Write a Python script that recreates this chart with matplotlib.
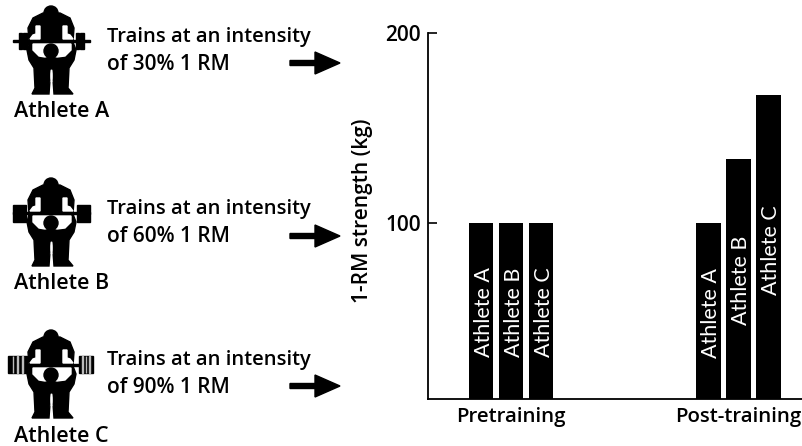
import matplotlib
matplotlib.use("Agg")
import matplotlib.pyplot as plt
from matplotlib.patches import Polygon, Circle, Rectangle, Ellipse

W, H = 803, 446
phases = ["Pretraining", "Post-training"]
athletes = ["Athlete A", "Athlete B", "Athlete C"]
pre_values = [100, 100, 100]
post_values = [100, 133.5, 167.5]
pre_label_start = [29.5, 29.5, 29.5]
post_label_start = [29, 46.3, 62]
intensities = [30, 60, 90]
y_ticks = [100, 200]
y_label = "1-RM strength (kg)"

FONT = "Open Sans"
plt.rcParams["font.family"] = [FONT, "DejaVu Sans"]
fig = plt.figure(figsize=(W / 100, H / 100), dpi=100, facecolor="white")

# chart axes
ax = fig.add_axes([428 / W, 1 - 399 / H, (W - 428) / W, (399 - 33) / H])
group_px = 227.5
off = 30 / group_px
bw = 24.5 / group_px
ax.set_xlim(-83 / group_px, 292 / group_px)
ax.set_ylim(7.4, 200)
for g, (vals, starts) in enumerate([(pre_values, pre_label_start), (post_values, post_label_start)]):
    for i, v in enumerate(vals):
        x = g + (i - 1) * off
        ax.bar(x, v - 7.4, bw, bottom=7.4, color="black", zorder=2)
        ax.text(x + 0.012, starts[i], athletes[i], rotation=90, ha="center", va="bottom",
                color="white", fontsize=15.5, fontfamily="Lato", fontweight="normal",
                zorder=3)
for s in ("top", "right"):
    ax.spines[s].set_visible(False)
for s in ("left", "bottom"):
    ax.spines[s].set_linewidth(1.3)
ax.set_yticks(y_ticks)
ax.set_yticklabels([str(t) for t in y_ticks], fontsize=15, fontweight="semibold")
ax.tick_params(axis="y", direction="in", length=6.5, width=1.2, pad=5)
ax.set_xticks([0, 1])
ax.set_xticklabels(phases, fontsize=14.7, fontweight="semibold")
ax.tick_params(axis="x", length=0, pad=6)
fig.text(363 / W, 1 - 211 / H, y_label, rotation=90, ha="center", va="center",
         fontsize=15, fontweight="semibold")

# overlay for the pictograms, in pixel coordinates
ov = fig.add_axes([0, 0, 1, 1], facecolor="none")
ov.set_xlim(0, W)
ov.set_ylim(H, 0)
ov.axis("off")


def lifter(dy, plate):
    k = "black"
    # barbell and plates
    ov.add_patch(Rectangle((13, dy + 40), 77, 2, color=k))
    if plate == 0:
        for x in (19, 23.5, 76, 80.5):
            ov.add_patch(Rectangle((x, dy + 33), 3.5, 16, color=k))
    elif plate == 1:
        for x, w in ((13, 13), (77, 13)):
            ov.add_patch(Rectangle((x, dy + 33), w, 17, color=k))
    else:
        for x, w in ((8, 19), (79, 14)):
            ov.add_patch(Rectangle((x, dy + 32), w, 17, color=k))
            for j in range(1, 4):
                ov.add_patch(Rectangle((x + j * w / 4, dy + 32), 0.4, 17, color="#bbbbbb"))
    # torso and arms outline
    body = [(43, 13), (60, 13), (70, 18), (74, 28), (73, 42), (76, 50), (74, 60),
            (69, 68), (68, 88), (73, 94), (54, 94), (53, 80), (50, 80), (49, 94),
            (32, 94), (35, 88), (34, 68), (29, 60), (27, 50), (29, 42), (28, 28), (33, 18)]
    ov.add_patch(Polygon([(x, y + dy) for x, y in body], closed=True, color=k, zorder=2))
    ov.add_patch(Circle((51, dy + 13), 7, color=k, zorder=2))
    # white gaps
    for side in (0, 1):
        fx = (lambda x: x) if side == 0 else (lambda x: 103 - x)
        gap = [(fx(36), 26), (fx(40), 26), (fx(40), 39), (fx(30), 39), (fx(33), 35), (fx(36), 34)]
        ov.add_patch(Polygon([(x, y + dy) for x, y in gap], closed=True, color="white", zorder=3))
    band = [(33, 44), (71, 44), (71, 50), (65, 56), (57, 57), (51, 55), (45, 57), (39, 56), (33, 50)]
    ov.add_patch(Polygon([(x, y + dy) for x, y in band], closed=True, color="white", zorder=3))
    ov.add_patch(Circle((51, dy + 51), 7, color=k, zorder=4))
    ov.add_patch(Ellipse((51.5, dy + 76), 1.2, 12, color="white", zorder=4))


def arrow(cy):
    shaft = [(290, cy - 2.5), (315, cy - 2.5), (315, cy - 11), (340, cy),
             (315, cy + 11), (315, cy + 2.5), (290, cy + 2.5)]
    ov.add_patch(Polygon(shaft, closed=True, color="black"))


dys = [0, 172, 324]
name_base = [117, 289, 442]
line1 = [42, 214, 365]
arrow_y = [63, 236, 386]
for i in range(3):
    lifter(dys[i], i)
    arrow(arrow_y[i])
    ov.text(14, name_base[i], athletes[i], fontsize=15.5, fontweight="semibold", va="baseline")
    ov.text(107, line1[i], "Trains at an intensity", fontsize=14.5, fontweight="semibold", va="baseline")
    ov.text(107, line1[i] + 28, f"of {intensities[i]}% 1 RM", fontsize=15, fontweight="semibold", va="baseline")

fig.savefig("out.png", dpi=100, facecolor="white")
